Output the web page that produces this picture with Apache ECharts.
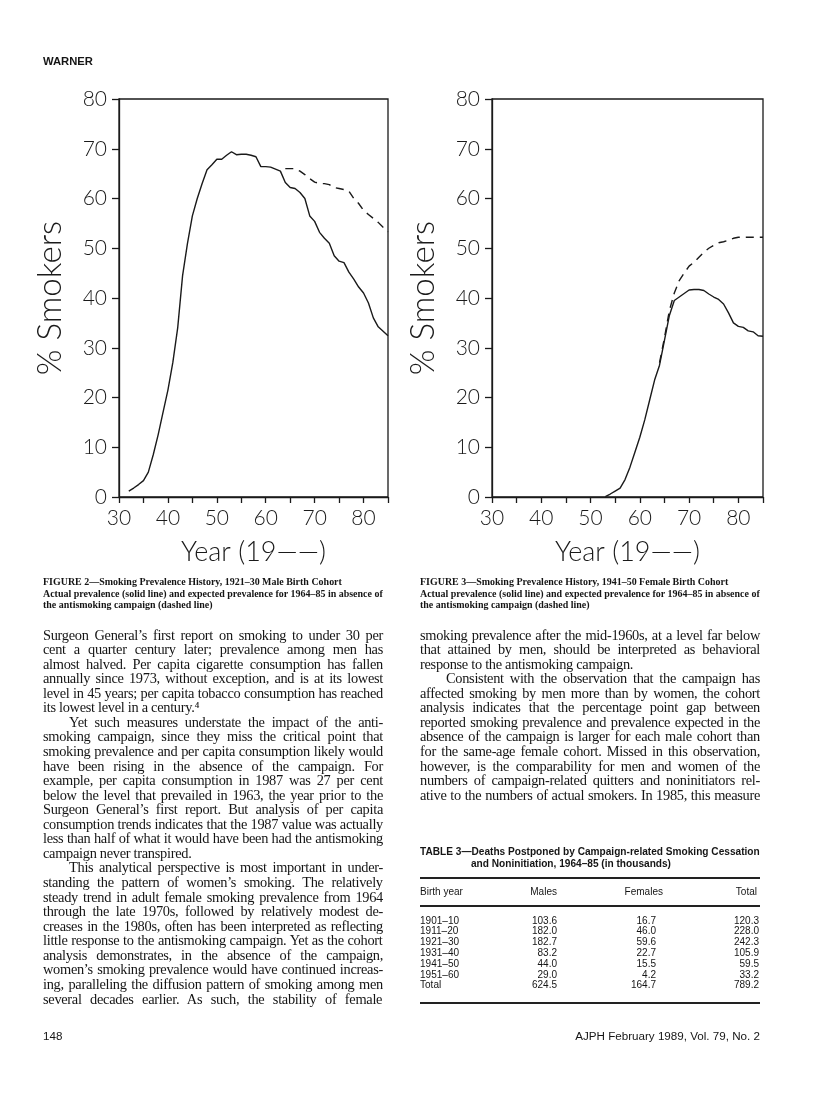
<!DOCTYPE html>
<html>
<head>
<meta charset="utf-8">
<script src="https://cdn.jsdelivr.net/npm/echarts@6/dist/echarts.min.js"></script>
<style>
  html, body { margin:0; padding:0; background:#fff; }
  body { width:816px; height:1108px; position:relative; overflow:hidden; }
  #chart { position:absolute; left:0; top:0; width:816px; height:1108px; }
  .t { position:absolute; white-space:nowrap; color:#151515; }
  .rule { position:absolute; height:1.6px; background:#222; }
</style>
</head>
<body>
<div id="chart"></div>
<script>
// ---------- DATA ----------
// Figure 2: 1921–30 male birth cohort
const maleYears    = [32,33,34,35,36,37,38,39,40,41,42,43,44,45,46,47,48,49,50,51,52,53,54,55,56,57,58,59,60,61,62,63,64,65,66,67,68,69,70,71,72,73,74,75,76,77,78,79,80,81,82,83,84,85];
const maleActual   = [1.2,1.8,2.5,3.3,5,8.5,12.5,17,21.5,27,34,44.5,51,56.5,60,63,65.8,66.8,67.9,67.9,68.7,69.4,68.8,68.9,68.9,68.7,68.4,66.4,66.4,66.3,65.9,65.5,63.2,62.2,62,61.2,60,56.5,55.4,53.2,52,51,48.5,47.4,47.1,45.2,43.8,42.2,41,39,36,34.2,33.3,32.4];
const maleExpYears = [64,65,66,67,68,69,70,71,72,73,74,75,76,77,78,79,80,81,82,83,84,85];
const maleExpected = [66,66,66,65.5,64.8,64,63.3,63,63,62.8,62.2,62,61.8,61.5,60,59,57.6,56.8,56,55.2,54.2,53.3];
// Figure 3: 1941–50 female birth cohort
const femaleYears    = [53,54,55,56,57,58,59,60,61,62,63,64,65,66,67,68,69,70,71,72,73,74,75,76,77,78,79,80,81,82,83,84,85];
const femaleActual   = [0.1,0.6,1.2,1.8,3.5,6,9,12,15.5,19.5,23.5,26.5,31.5,36.5,39.5,40.2,40.9,41.6,41.7,41.7,41.5,40.8,40.2,39.7,38.8,37,35,34.3,34.1,33.4,33.2,32.4,32.3];
const femaleExpYears = [64,65,66,67,68,69,70,71,72,73,74,75,76,77,78,79,80,81,82,83,84,85];
const femaleExpected = [27,32,37.5,41,43.5,45,46.4,47.2,48.2,49.2,50,50.6,51.1,51.3,51.6,52,52.2,52.2,52.2,52.2,52.2,52.2];
// Table 3
const tableBirthYears = ['1901–10','1911–20','1921–30','1931–40','1941–50','1951–60','Total'];
const tableMales      = ['103.6','182.0','182.7','83.2','44.0','29.0','624.5'];
const tableFemales    = ['16.7','46.0','59.6','22.7','15.5','4.2','164.7'];
const tableTotal      = ['120.3','228.0','242.3','105.9','59.5','33.2','789.2'];
const tableHeaders    = ['Birth year','Males','Females','Total'];

// ---------- CHARTS ----------
const pairs = (xs, ys) => xs.map((x, i) => [x, ys[i]]);
const AF = 'Lato, "Open Sans", sans-serif';
const INK = '#1a1a1a';

function xAxis(gi) {
  return {
    gridIndex: gi, type: 'value', min: 30, max: 85, interval: 5,
    axisLine: { show: true, lineStyle: { color: INK, width: 1.3 } },
    axisTick: { show: true, inside: false, length: 6, lineStyle: { color: INK, width: 1.3 } },
    splitLine: { show: false },
    axisLabel: { formatter: v => (v % 10 === 0 && v < 85) ? String(v) : '', fontSize: 21, fontFamily: AF, fontWeight: 300, color: INK, margin: 11 },
    name: 'Year (19——)', nameLocation: 'middle', nameGap: 42,
    nameTextStyle: { fontSize: 27, fontFamily: AF, fontWeight: 300, color: INK }
  };
}
function yAxis(gi) {
  return {
    gridIndex: gi, type: 'value', min: 0, max: 80, interval: 10,
    axisLine: { show: true, lineStyle: { color: INK, width: 1.3 } },
    axisTick: { show: true, inside: false, length: 7, lineStyle: { color: INK, width: 1.3 } },
    splitLine: { show: false },
    axisLabel: { fontSize: 21, fontFamily: AF, fontWeight: 300, color: INK, margin: 12 },
    name: '% Smokers', nameLocation: 'middle', nameRotate: 90, nameGap: 52,
    nameTextStyle: { fontSize: 33, fontFamily: AF, fontWeight: 300, color: INK }
  };
}
function line(gi, xs, ys, dashed) {
  return {
    type: 'line', xAxisIndex: gi, yAxisIndex: gi, data: pairs(xs, ys),
    symbol: 'none', smooth: false, animation: false,
    lineStyle: { color: INK, width: 1.4, type: dashed ? [8, 6] : 'solid' }
  };
}

const chart = echarts.init(document.getElementById('chart'), null, { renderer: 'canvas', width: 816, height: 1108 });
chart.setOption({
  backgroundColor: '#fff',
  animation: false,
  grid: [
    { left: 119, right: 816 - 388, top: 99, bottom: 1108 - 497, show: true, borderColor: INK, borderWidth: 1.3, backgroundColor: 'transparent' },
    { left: 492, right: 816 - 763, top: 99, bottom: 1108 - 497, show: true, borderColor: INK, borderWidth: 1.3, backgroundColor: 'transparent' }
  ],
  xAxis: [xAxis(0), xAxis(1)],
  yAxis: [yAxis(0), yAxis(1)],
  series: [
    line(0, maleYears, maleActual, false),
    line(0, maleExpYears, maleExpected, true),
    line(1, femaleYears, femaleActual, false),
    line(1, femaleExpYears, femaleExpected, true)
  ]
});

// ---------- PAGE TEXT ----------
const ctx = document.createElement('canvas').getContext('2d');
function tw(text, font, ls) { ctx.font = font; return ctx.measureText(text).width + (ls || 0) * text.length; }
function put(text, x, cy, o) {
  const d = document.createElement('div');
  d.className = 't';
  d.textContent = text;
  const lh = o.lh || 14;
  d.style.font = o.font;
  d.style.lineHeight = lh + 'px';
  if (o.ls) d.style.letterSpacing = o.ls + 'px';
  const w = tw(text, o.font, o.ls);
  let left = x;
  if (o.justify) {
    const n = (text.match(/ /g) || []).length;
    if (n) d.style.wordSpacing = ((o.width - w) / n) + 'px';
  }
  if (o.align === 'right') left = x - w;
  if (o.align === 'center') left = x - w / 2;
  d.style.left = left + 'px';
  d.style.top = (cy - lh / 2) + 'px';
  document.body.appendChild(d);
}
function fitSize(lines, family, weight, width, base) {
  let m = 0;
  lines.forEach(s => { m = Math.max(m, tw(s, `${weight} ${base}px ${family}`)); });
  return base * width / m;
}

const SERIF = '"Liberation Serif", "Times New Roman", serif';
const SANS = '"Liberation Sans", Arial, sans-serif';

// header
{ const fs = fitSize(['WARNER'], SANS, 'bold', 50, 11); put('WARNER', 43, 61, { font: `bold ${fs}px ${SANS}` }); }

// captions
const cap2 = ['FIGURE 2—Smoking Prevalence History, 1921–30 Male Birth Cohort',
  'Actual prevalence (solid line) and expected prevalence for 1964–85 in absence of',
  'the antismoking campaign (dashed line)'];
const cap3 = ['FIGURE 3—Smoking Prevalence History, 1941–50 Female Birth Cohort',
  'Actual prevalence (solid line) and expected prevalence for 1964–85 in absence of',
  'the antismoking campaign (dashed line)'];
{
  const fs = fitSize([cap2[1]], SERIF, 'bold', 340, 11);
  const f = `bold ${fs}px ${SERIF}`;
  const ys = [582, 593.5, 605];
  cap2.forEach((s, i) => put(s, 43, ys[i], { font: f, lh: 12 }));
  cap3.forEach((s, i) => put(s, 420, ys[i], { font: f, lh: 12 }));
}

// body text
const leftLines = [
  ['Surgeon General’s first report on smoking to under 30 per', 'j'],
  ['cent a quarter century later; prevalence among men has', 'j'],
  ['almost halved. Per capita cigarette consumption has fallen', 'j'],
  ['annually since 1973, without exception, and is at its lowest', 'j'],
  ['level in 45 years; per capita tobacco consumption has reached', 'j'],
  ['its lowest level in a century.⁴', 'l'],
  ['Yet such measures understate the impact of the anti-', 'i'],
  ['smoking campaign, since they miss the critical point that', 'j'],
  ['smoking prevalence and per capita consumption likely would', 'j'],
  ['have been rising in the absence of the campaign. For', 'j'],
  ['example, per capita consumption in 1987 was 27 per cent', 'j'],
  ['below the level that prevailed in 1963, the year prior to the', 'j'],
  ['Surgeon General’s first report. But analysis of per capita', 'j'],
  ['consumption trends indicates that the 1987 value was actually', 'j'],
  ['less than half of what it would have been had the antismoking', 'j'],
  ['campaign never transpired.', 'l'],
  ['This analytical perspective is most important in under-', 'i'],
  ['standing the pattern of women’s smoking. The relatively', 'j'],
  ['steady trend in adult female smoking prevalence from 1964', 'j'],
  ['through the late 1970s, followed by relatively modest de-', 'j'],
  ['creases in the 1980s, often has been interpreted as reflecting', 'j'],
  ['little response to the antismoking campaign. Yet as the cohort', 'j'],
  ['analysis demonstrates, in the absence of the campaign,', 'j'],
  ['women’s smoking prevalence would have continued increas-', 'j'],
  ['ing, paralleling the diffusion pattern of smoking among men', 'j'],
  ['several decades earlier. As such, the stability of female', 'j']
];
const rightLines = [
  ['smoking prevalence after the mid-1960s, at a level far below', 'j'],
  ['that attained by men, should be interpreted as behavioral', 'j'],
  ['response to the antismoking campaign.', 'l'],
  ['Consistent with the observation that the campaign has', 'i'],
  ['affected smoking by men more than by women, the cohort', 'j'],
  ['analysis indicates that the percentage point gap between', 'j'],
  ['reported smoking prevalence and prevalence expected in the', 'j'],
  ['absence of the campaign is larger for each male cohort than', 'j'],
  ['for the same-age female cohort. Missed in this observation,', 'j'],
  ['however, is the comparability for men and women of the', 'j'],
  ['numbers of campaign-related quitters and noninitiators rel-', 'j'],
  ['ative to the numbers of actual smokers. In 1985, this measure', 'j']
];
{
  const fs = 14.4, ls = -0.3;
  const f = `${fs}px ${SERIF}`;
  const LH = 14.56, y0 = 635;
  const draw = (lines, x0) => lines.forEach((l, i) => {
    const [s, k] = l;
    const ind = k === 'i' ? 26 : 0;
    put(s, x0 + ind, y0 + i * LH, { font: f, ls: ls, lh: 15, justify: k !== 'l', width: 340 - ind });
  });
  draw(leftLines, 43);
  draw(rightLines, 420);
}

// table
{
  const t1 = 'TABLE 3—Deaths Postponed by Campaign-related Smoking Cessation';
  const t2 = 'and Noninitiation, 1964–85 (in thousands)';
  const fs = fitSize([t1], SANS, 'bold', 340, 10);
  const f = `bold ${fs}px ${SANS}`;
  put(t1, 420, 852, { font: f, lh: 12 });
  put(t2, 471, 864, { font: f, lh: 12 });

  const rule = (y) => { const r = document.createElement('div'); r.className = 'rule'; r.style.left = '420px'; r.style.width = '340px'; r.style.top = (y - 0.8) + 'px'; document.body.appendChild(r); };
  rule(878); rule(906); rule(1003);

  const bs = fitSize(['Birth year'], SANS, 'normal', 43, 10);
  const bf = `${bs}px ${SANS}`;
  put(tableHeaders[0], 420, 892, { font: bf, lh: 12 });
  put(tableHeaders[1], 557, 892, { font: bf, lh: 12, align: 'right' });
  put(tableHeaders[2], 663, 892, { font: bf, lh: 12, align: 'right' });
  put(tableHeaders[3], 757, 892, { font: bf, lh: 12, align: 'right' });
  const ry0 = 920, rdy = 10.8;
  tableBirthYears.forEach((b, i) => {
    const y = ry0 + i * rdy;
    put(b, 420, y, { font: bf, lh: 11 });
    put(tableMales[i], 557, y, { font: bf, lh: 11, align: 'right' });
    put(tableFemales[i], 656, y, { font: bf, lh: 11, align: 'right' });
    put(tableTotal[i], 759, y, { font: bf, lh: 11, align: 'right' });
  });
}

// footer
{
  const foot = 'AJPH February 1989, Vol. 79, No. 2';
  const fs = fitSize([foot], SANS, 'normal', 185, 11);
  const f = `${fs}px ${SANS}`;
  put('148', 43, 1035, { font: f, lh: 13 });
  put(foot, 760, 1035, { font: f, lh: 13, align: 'right' });
}
</script>
</body>
</html>
